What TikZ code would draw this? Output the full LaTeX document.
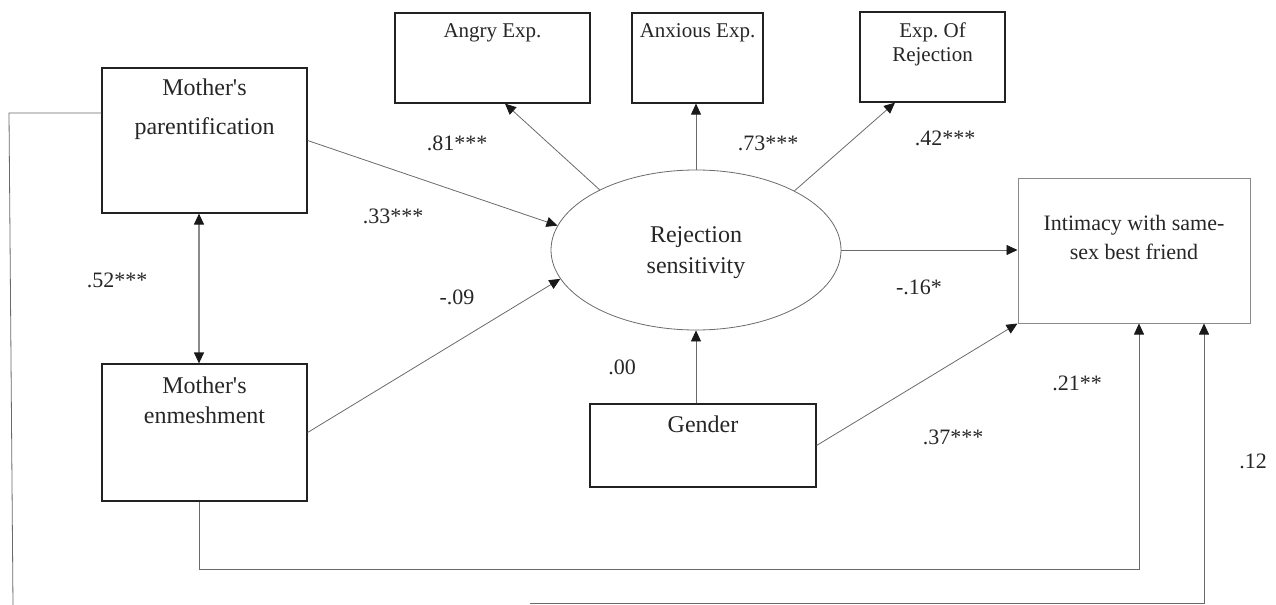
\documentclass[tikz,border=0pt]{standalone}
\usepackage{fontspec}
\setmainfont{Liberation Serif}
\frenchspacing
\usetikzlibrary{arrows.meta,shapes.geometric}
\definecolor{boxline}{HTML}{222222}
\definecolor{conline}{HTML}{6A6A6A}
\definecolor{softline}{HTML}{8A8A8A}
\begin{document}
\begin{tikzpicture}[x=0.5pt,y=-0.5pt,
  box/.style={draw=boxline, line width=0.6pt, inner sep=0pt, rectangle},
  softbox/.style={draw=softline, line width=0.5pt, inner sep=0pt, rectangle},
  arr/.style={draw=conline, line width=0.4pt, -{Triangle[length=5.5pt,width=5pt,color=black!90]}},
  darr/.style={draw=softline, line width=0.6pt, {Triangle[length=5.5pt,width=5pt,color=black!90]}-{Triangle[length=5.5pt,width=5pt,color=black!90]}},
  plain/.style={draw=conline, line width=0.4pt},
  big/.style={font=\fontsize{12}{14}\selectfont, inner sep=0pt, text=black!85, text height=1.5ex, text depth=.3ex},
  small/.style={font=\fontsize{11}{13}\selectfont, inner sep=0pt, text=black!85, text height=1.5ex, text depth=.3ex},
  tiny/.style={font=\fontsize{10.5}{12}\selectfont, inner sep=0pt, text=black!85, text height=1.5ex, text depth=.3ex},
  lab/.style={font=\fontsize{11}{13}\selectfont, inner sep=0pt, text=black!85}
]
\useasboundingbox (0,0) rectangle (1276,605);

% boxes
\node[box, minimum width=102.5pt, minimum height=72.5pt] (par) at (204.5,140.5) {};
\node[box, minimum width=102.5pt, minimum height=68.5pt] (enm) at (204.5,432.5) {};
\node[box, minimum width=97.5pt, minimum height=45pt] (angry) at (492.5,58) {};
\node[box, minimum width=65.5pt, minimum height=45pt] (anx) at (697.5,58) {};
\node[box, minimum width=72.5pt, minimum height=45pt] (rej) at (932.5,57) {};
\node[draw=conline, line width=0.4pt, ellipse, inner sep=0pt, minimum width=145pt, minimum height=80pt] (RS) at (696,250) {};
\node[softbox, minimum width=116pt, minimum height=72.5pt] (int) at (1134,250.5) {};
\node[box, minimum width=113pt, minimum height=41.5pt] (gen) at (703,445.5) {};

% box texts
\node[big] (parA) at (204.5,90) {Mother\textquotesingle s};
\node[big] (parB) at (204.5,129) {parentification};
\node[big] (enmA) at (204.5,388) {Mother\textquotesingle s};
\node[big] (enmB) at (204.5,418) {enmeshment};
\node[tiny] (angT) at (492.5,32) {Angry Exp.};
\node[tiny] (anxT) at (697.5,32) {Anxious Exp.};
\node[tiny] (rejA) at (932.5,32) {Exp. Of};
\node[tiny] (rejB) at (932.5,56) {Rejection};
\node[big] (rsA) at (696,237) {Rejection};
\node[big] (rsB) at (696,268) {sensitivity};
\node[small] (intA) at (1134,225) {Intimacy with same-};
\node[small] (intB) at (1134,254) {sex best friend};
\node[big] (genT) at (703,427) {Gender};

% connectors
\draw[arr] (RS.148) -- ([xshift=6.25pt]angry.south);
\draw[arr] (RS.north) -- (RS.north |- anx.south);
\draw[arr] (RS.31) -- ([xshift=-18.75pt]rej.south);
\draw[arr] (par.east) -- (RS.170);
\draw[arr] (enm.east) -- (RS.192);
\draw[arr] (RS.south |- gen.north) -- (RS.south);
\draw[arr] (RS.east) -- (RS.east -| int.west);
\draw[arr] (gen.east) -- (int.south west);
\draw[darr] ([xshift=-2.75pt]par.south) -- ([xshift=-2.75pt]enm.north);

\coordinate (e1) at (199,569);
\draw[arr] ([xshift=-2.75pt]enm.south) -- (e1) -| ([xshift=2.5pt]int.south);

\coordinate (p1) at (9,113);
\coordinate (p2) at (13,605);
\coordinate (p3) at (530,603);
\draw[plain] ([yshift=13.75pt]par.west) -- (p1) -- (p2);
\draw[arr] (p3) -| ([xshift=35pt]int.south);

% path labels
\node[lab] (l81) at (457,143) {.81***};
\node[lab] (l73) at (768,143) {.73***};
\node[lab] (l42) at (945,138) {.42***};
\node[lab] (l33) at (393,216) {.33***};
\node[lab] (l09) at (457,297) {-.09};
\node[lab] (l52) at (117,280) {.52***};
\node[lab] (l16) at (919,287) {-.16*};
\node[lab] (l00) at (622,367) {.00};
\node[lab] (l37) at (953,437) {.37***};
\node[lab] (l21) at (1077,383) {.21**};
\node[lab] (l12) at (1253,461) {.12};
\end{tikzpicture}
\end{document}
